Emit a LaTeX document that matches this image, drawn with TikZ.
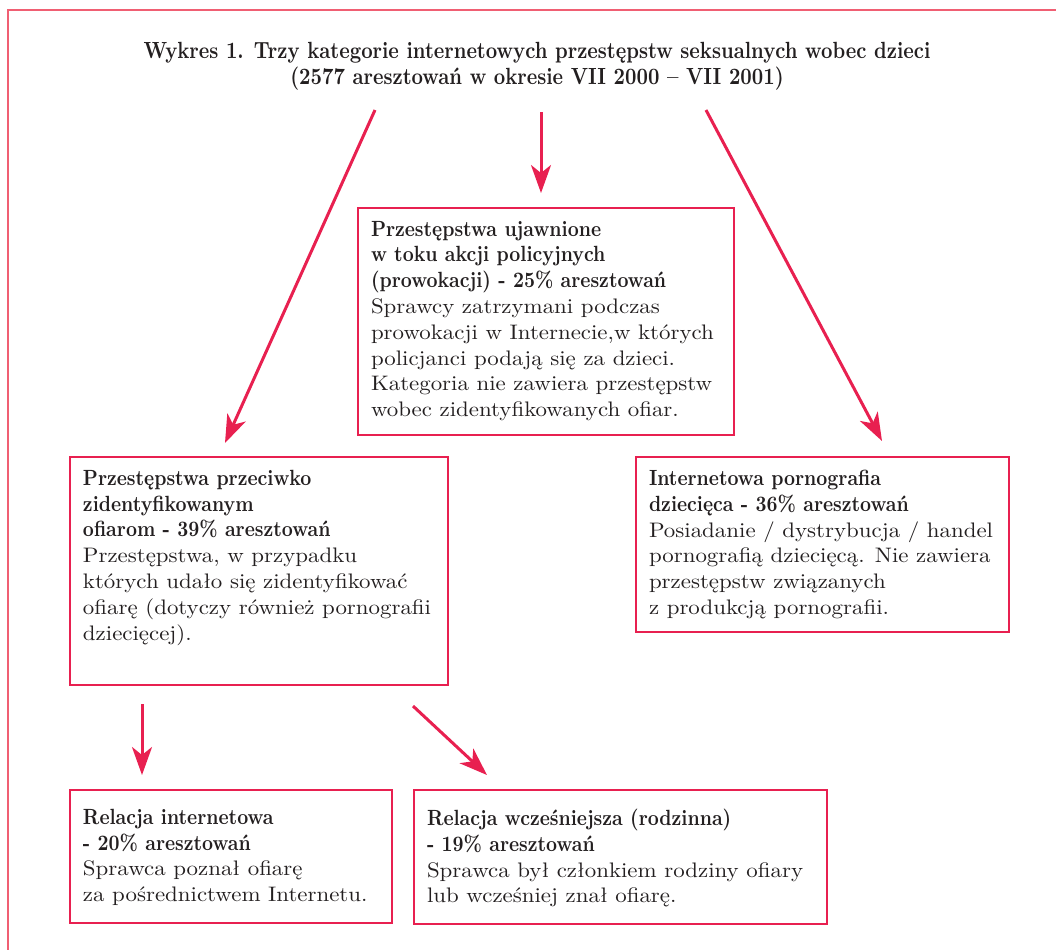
\documentclass[tikz,border=0pt]{standalone}
\usepackage{fontspec}
\usepackage{tikz}
\usetikzlibrary{arrows.meta}
\newfontfamily\zwykly{lmroman10-regular.otf}[FakeStretch=1.09]
\newfontfamily\gruby{lmroman10-bold.otf}[FakeStretch=0.87]
\newfontfamily\tytulowy{lmroman10-bold.otf}[FakeStretch=0.85]
\definecolor{ramkared}{RGB}{232,32,80}
\definecolor{tlored}{RGB}{240,95,115}
\definecolor{tekst}{RGB}{35,31,32}
\tikzset{
  >={Stealth[length=14pt,width=10pt,inset=4pt]},
  ramka/.style = {draw=ramkared, line width=1pt, anchor=north west,
                  inner xsep=6.5pt, inner ysep=#1, text=tekst},
  ramka/.default = 6.5pt,
  strzalka/.style = {->, draw=ramkared, fill=ramkared, line width=1.5pt},
  opis/.style = {font=\tytulowy\fontsize{11.7}{13}\selectfont,
                 align=center, text=tekst},
}
\newcommand{\tresc}{\zwykly\fontsize{10.5}{12.9}\selectfont\raggedright}
\newcommand{\nagl}[1]{{\gruby\fontsize{11}{12.9}\selectfont #1}}

\begin{document}
\begin{tikzpicture}[x=0.5pt,y=-0.5pt]
\useasboundingbox (0,0) rectangle (1056,950);
\draw[tlored, line width=1pt] (1056,10) -- (8,10) -- (8,950);
\node[opis] (T) at (537,66)
  {Wykres 1. Trzy kategorie internetowych przestępstw seksualnych wobec dzieci\\
   (2577 aresztowań w okresie VII 2000 – VII 2001)};
\node[ramka] (PP) at (357,207)
{\begin{minipage}[t][100.5pt][t]{175pt}\tresc
    \nagl{Przestępstwa ujawnione\\
    w toku akcji policyjnych\\
    (prowokacji) - 25\% aresztowań}\\
    Sprawcy zatrzymani podczas\\
    prowokacji w Internecie,w których\\
    policjanci podają się za dzieci.\\
    Kategoria nie zawiera przestępstw\\
    wobec zidentyfikowanych ofiar.
\end{minipage}};
\node[ramka] (PO) at (69,456)
{\begin{minipage}[t][101pt][t]{176pt}\tresc
    \nagl{Przestępstwa przeciwko\\
    zidentyfikowanym\\
    ofiarom - 39\% aresztowań}\\
    Przestępstwa, w przypadku\\
    których udało się zidentyfikować\\
    ofiarę (dotyczy również pornografii\\
    dziecięcej).
\end{minipage}};
\node[ramka] (IP) at (635,456)
{\begin{minipage}[t][74.5pt][t]{173.5pt}\tresc
    \nagl{Internetowa pornografia\\
    dziecięca - 36\% aresztowań}\\
    Posiadanie / dystrybucja / handel\\
    pornografią dziecięcą. Nie zawiera\\
    przestępstw związanych\\
    z produkcją pornografii.
\end{minipage}};
\node[ramka=9.5pt] (RI) at (69,789)
{\begin{minipage}[t][47.5pt][t]{148pt}\tresc
    \nagl{Relacja internetowa\\
    - 20\% aresztowań}\\
    Sprawca poznał ofiarę\\
    za pośrednictwem Internetu.
\end{minipage}};
\node[ramka=9.5pt] (RW) at (413,789)
{\begin{minipage}[t][48pt][t]{193.5pt}\tresc
    \nagl{Relacja wcześniejsza (rodzinna)\\
    - 19\% aresztowań}\\
    Sprawca był członkiem rodziny ofiary\\
    lub wcześniej znał ofiarę.
\end{minipage}};
% strzalki
\coordinate (w1) at (375,110);
\coordinate (w2) at (541,112);
\coordinate (w3) at (706,110);
\coordinate (w4) at (142,704);
\coordinate (w5) at (413,706);
\draw[strzalka] (w1) -- ([xshift=78pt,yshift=6.5pt]PO.north west);
\draw[strzalka] (w2) -- ([xshift=92pt,yshift=7pt]PP.north west);
\draw[strzalka] (w3) -- ([xshift=123.5pt,yshift=7.5pt]IP.north west);
\draw[strzalka] (w4) -- ([xshift=36.5pt,yshift=7pt]RI.north west);
\draw[strzalka] (w5) -- ([xshift=37pt,yshift=7pt]RW.north west);
\end{tikzpicture}
\end{document}
